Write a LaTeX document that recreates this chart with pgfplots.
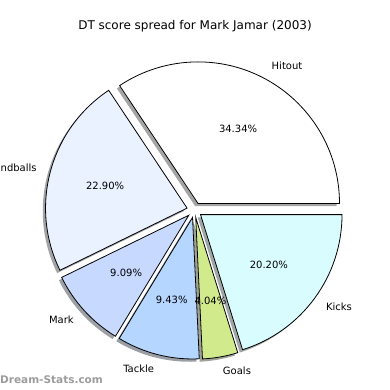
\documentclass[border=0pt]{standalone}
\usepackage{pgfplots}
\pgfplotsset{compat=1.18}
\usepackage{pgfplotstable}
\usepackage{fontspec}
\setmainfont{DejaVu Sans}
\definecolor{cHitout}{HTML}{FFFFFF}
\definecolor{cHand}{HTML}{EAF1FF}
\definecolor{cMark}{HTML}{C8D9FF}
\definecolor{cTackle}{HTML}{B5D6FF}
\definecolor{cGoals}{HTML}{D0EA8C}
\definecolor{cKicks}{HTML}{D9FDFF}
\definecolor{wm}{HTML}{9C9C9C}

\pgfplotstableread[col sep=comma]{
label,value,color
Hitout,34.34,cHitout
Handballs,22.90,cHand
Mark,9.09,cMark
Tackle,9.43,cTackle
Goals,4.04,cGoals
Kicks,20.20,cKicks
}\slices

\def\CX{194.4}
\def\CY{179.9}
\def\RR{141.5}
\def\EXP{7.6}

\begin{document}
\begin{tikzpicture}
\begin{axis}[at={(0,0)}, anchor=origin, width=390bp, height=390bp,
  scale only axis, xmin=0, xmax=390, ymin=0, ymax=390,
  hide axis, clip=false]
\pgfplotsextra{
  \gdef\acc{0}
  \foreach \i in {0,...,5}{
    \pgfplotstablegetelem{\i}{value}\of\slices
    \pgfmathsetmacro\va{\acc}
    \pgfmathsetmacro\vb{\acc+3.6*\pgfplotsretval}
    \pgfmathsetmacro\vm{(\va+\vb)/2}
    \pgfmathsetmacro\vx{\CX+\EXP*cos(\vm)}
    \pgfmathsetmacro\vy{\CY+\EXP*sin(\vm)}
    \expandafter\xdef\csname pa\i\endcsname{\va}
    \expandafter\xdef\csname pb\i\endcsname{\vb}
    \expandafter\xdef\csname pm\i\endcsname{\vm}
    \expandafter\xdef\csname px\i\endcsname{\vx}
    \expandafter\xdef\csname py\i\endcsname{\vy}
    \xdef\acc{\vb}
  }
  % shadows
  \foreach \i in {0,...,5}{
    \pgfplotstablegetelem{\i}{color}\of\slices
    \edef\col{\pgfplotsretval}
    \edef\a{\csname pa\i\endcsname}
    \edef\b{\csname pb\i\endcsname}
    \pgfmathsetmacro\sx{\csname px\i\endcsname-2.8}
    \pgfmathsetmacro\sy{\csname py\i\endcsname-2.8}
    \fill[fill=\col!30!black, opacity=0.5] (axis cs:\sx,\sy) -- ++(\a:\RR bp)
      arc[start angle=\a, end angle=\b, radius=\RR bp] -- cycle;
  }
  % wedges
  \foreach \i in {0,...,5}{
    \pgfplotstablegetelem{\i}{color}\of\slices
    \edef\col{\pgfplotsretval}
    \edef\a{\csname pa\i\endcsname}
    \edef\b{\csname pb\i\endcsname}
    \edef\x{\csname px\i\endcsname}
    \edef\y{\csname py\i\endcsname}
    \filldraw[fill=\col, draw=black, line width=0.8bp, line join=miter] (axis cs:\x,\y) -- ++(\a:\RR bp)
      arc[start angle=\a, end angle=\b, radius=\RR bp] -- cycle;
  }
  % texts
  \foreach \i in {0,...,5}{
    \pgfplotstablegetelem{\i}{label}\of\slices
    \edef\lab{\pgfplotsretval}
    \pgfplotstablegetelem{\i}{value}\of\slices
    \edef\val{\pgfplotsretval}
    \edef\m{\csname pm\i\endcsname}
    \edef\x{\csname px\i\endcsname}
    \edef\y{\csname py\i\endcsname}
    \pgfmathsetmacro\lx{\x+1.1*\RR*cos(\m)}
    \pgfmathsetmacro\ly{\y+1.1*\RR*sin(\m)}
    \pgfmathsetmacro\tx{\x+0.6*\RR*cos(\m)}
    \pgfmathsetmacro\ty{\y+0.6*\RR*sin(\m)}
    \pgfmathparse{cos(\m)>0 ? "west" : "east"}
    \edef\anc{\pgfmathresult}
    \node[anchor=\anc, inner sep=0pt, font=\fontsize{10bp}{12bp}\selectfont] at (axis cs:\lx,\ly) {\lab};
    \node[anchor=center, inner sep=0pt, font=\fontsize{10bp}{12bp}\selectfont] at (axis cs:\tx,\ty)
      {\pgfmathprintnumber[fixed, fixed zerofill, precision=2, assume math mode=true]{\val}\%};
  }
  \node[anchor=center, inner sep=0pt, font=\fontsize{12bp}{14bp}\selectfont] at (axis cs:195,364)
    {DT score spread for Mark Jamar (2003)};
  \node[anchor=west, inner sep=0pt, text=wm, font=\bfseries\fontsize{10.5bp}{12bp}\selectfont] at (axis cs:0,10)
    {Dream-Stats.com};
}
\end{axis}
\pgfresetboundingbox
\useasboundingbox (0,0) rectangle (390bp,390bp);
\end{tikzpicture}
\end{document}
